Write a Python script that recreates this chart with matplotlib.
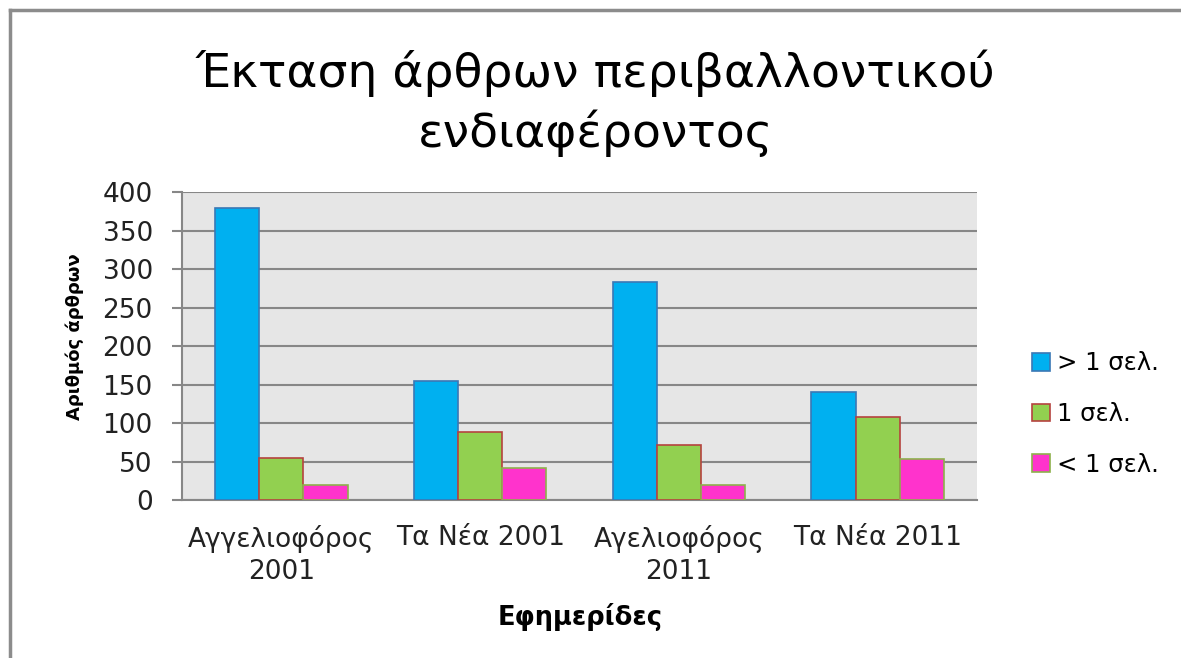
import numpy as np
import matplotlib
matplotlib.use("Agg")
import matplotlib.pyplot as plt
from matplotlib.patches import Rectangle

plt.rcParams['font.family'] = ['DejaVu Sans']

categories = ["Αγγελιοφόρος\n2001", "Τα Νέα 2001", "Αγελιοφόρος\n2011", "Τα Νέα 2011"]
series_names = ["> 1 σελ.", "1 σελ.", "< 1 σελ."]
more_than_1 = [379, 154, 283, 140]
one_page = [55, 88, 72, 108]
less_than_1 = [20, 42, 20, 53]
yticks = [0, 50, 100, 150, 200, 250, 300, 350, 400]

fill_colors = ["#00B0F0", "#92D050", "#FF33CC"]
edge_colors = ["#3A78B5", "#B5433F", "#8DB04C"]

fig = plt.figure(figsize=(11.81, 6.58), dpi=100)
ax = fig.add_axes([0.1541, 0.2401, 0.6732, 0.4681])

# outer chart border (top and left visible)
fig.add_artist(plt.Line2D([10 / 1181, 10 / 1181], [0, 1 - 10 / 658],
                          transform=fig.transFigure, color="#8C8C8C", lw=2.5))
fig.add_artist(plt.Line2D([10 / 1181, 1], [1 - 10 / 658, 1 - 10 / 658],
                          transform=fig.transFigure, color="#8C8C8C", lw=2.5))

x = np.arange(len(categories))
w = 1 / 4.5
for i, (vals, name) in enumerate(zip([more_than_1, one_page, less_than_1], series_names)):
    ax.bar(x + (i - 1) * w, vals, width=w, color=fill_colors[i],
           edgecolor=edge_colors[i], linewidth=1.2, label=name, zorder=3)

ax.set_facecolor("#E6E6E6")
ax.set_xlim(-0.5, len(categories) - 0.5)
ax.set_ylim(0, 400)
ax.set_yticks(yticks)
ax.yaxis.grid(True, color="#878787", lw=1.5, zorder=1)
ax.set_axisbelow(True)
for s in ["top", "right"]:
    ax.spines[s].set_visible(False)
ax.spines["left"].set_color("#878787")
ax.spines["bottom"].set_color("#878787")
ax.spines["left"].set_linewidth(1.5)
ax.spines["bottom"].set_linewidth(1.5)
ax.tick_params(axis="y", length=7, width=1.5, color="#878787", labelsize=19, pad=14,
               labelcolor="#222222")
ax.tick_params(axis="x", length=0, labelsize=19, pad=18, labelcolor="#222222")
ax.set_xticks(x)
ax.set_xticklabels(categories, linespacing=1.3)

fig.text(75 / 1181, 1 - 337 / 658, "Αριθμός άρθρων", rotation=90, ha="center", va="center",
         fontsize=13, fontweight="bold")
fig.text(580 / 1181, 1 - 617 / 658, "Εφημερίδες", ha="center", va="center",
         fontsize=18.5, fontweight="bold")

fig.text(0.504, 0.843, "Έκταση άρθρων περιβαλλοντικού\nενδιαφέροντος",
         ha="center", va="center", fontsize=34, linespacing=1.32)

handles = [Rectangle((0, 0), 1, 1, facecolor=fill_colors[i], edgecolor=edge_colors[i], lw=1.2)
           for i in range(3)]
fig.legend(handles, series_names, loc="center left", bbox_to_anchor=(0.855, 0.3708),
           frameon=False, fontsize=17.5, handlelength=0.75, handleheight=0.75,
           handletextpad=0.3, labelspacing=1.1)

fig.savefig("out.png", dpi=100)
